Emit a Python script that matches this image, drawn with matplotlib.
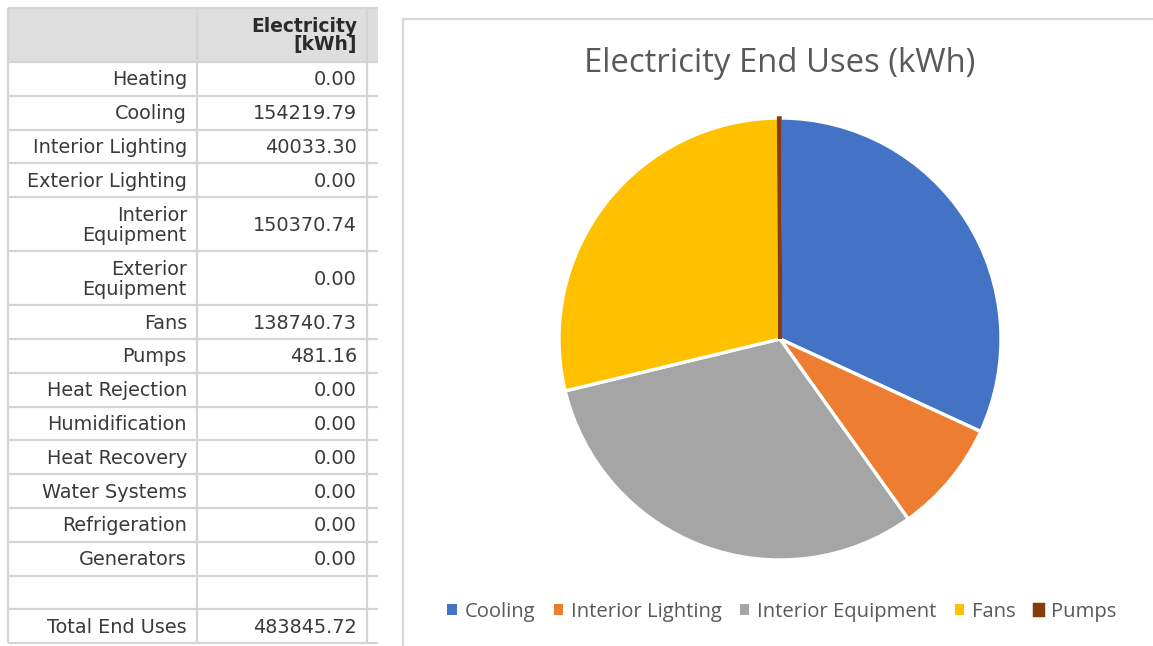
import matplotlib.pyplot as plt
from matplotlib.patches import Patch, Rectangle

# end-use table (left) and pie of the non-zero electricity uses (right)
row_labels = ["Heating", "Cooling", "Interior Lighting", "Exterior Lighting",
              "Interior\nEquipment", "Exterior\nEquipment", "Fans", "Pumps",
              "Heat Rejection", "Humidification", "Heat Recovery",
              "Water Systems", "Refrigeration", "Generators", "",
              "Total End Uses"]
row_values = ["0.00", "154219.79", "40033.30", "0.00", "150370.74", "0.00",
              "138740.73", "481.16", "0.00", "0.00", "0.00", "0.00", "0.00",
              "0.00", "", "483845.72"]

pie_labels = ["Cooling", "Interior Lighting", "Interior Equipment", "Fans", "Pumps"]
pie_values = [154219.79, 40033.30, 150370.74, 138740.73, 481.16]
pie_colors = ["#4472C4", "#ED7D31", "#A5A5A5", "#FFC000", "#843C0C"]

plt.rcParams["font.family"] = ["DejaVu Sans"]

W, H = 1153, 646
fig = plt.figure(figsize=(W / 100, H / 100), dpi=100)
fig.patch.set_facecolor("white")

# pixel-space axes for the table and the chart frame
bg = fig.add_axes([0, 0, 1, 1])
bg.set_xlim(0, W)
bg.set_ylim(H, 0)
bg.axis("off")

grid_c = "#d4d4d4"
txt_c = "#3a3a3a"
x0, x1, x2, xr = 8, 197, 367, 378
top, head_bot = 8, 62
single, double = 33.8, 54

bg.add_patch(Rectangle((x0, top), xr - x0, head_bot - top, facecolor="#dedede",
                       edgecolor="none", zorder=0))
bg.text(357, 35.5, "Electricity\n[kWh]", ha="right", va="center", fontsize=13.4,
        fontweight="bold", color="#2a2a2a",
        linespacing=0.98, multialignment="right")

y = head_bot
edges = [top, head_bot]
for lab, val in zip(row_labels, row_values):
    h = double if "\n" in lab else single
    yc = y + h / 2
    bg.text(187, yc + 1, lab, ha="right", va="center", fontsize=13.9, color=txt_c,
            linespacing=1.05, multialignment="right")
    bg.text(357, yc + 1, val, ha="right", va="center", fontsize=13.9, color=txt_c)
    y += h
    edges.append(y)

for e in edges:
    bg.plot([x0, xr], [e, e], color=grid_c, lw=1.6, solid_capstyle="butt")
for xv in (x0, x1, x2):
    bg.plot([xv, xv], [top, edges[-1]], color=grid_c, lw=1.6, solid_capstyle="butt")

# chart frame (only left and top edges fall inside the image)
bg.plot([403, 403], [H, 18.5], color="#d9d9d9", lw=1.6)
bg.plot([403, W], [18.5, 18.5], color="#d9d9d9", lw=1.6)

bg.text(780, 63, "Electricity End Uses (kWh)", ha="center", va="center",
        fontsize=23.7, color="#595959", family="Open Sans")

# pie
cx, cy, r = 780, 339, 221
pax = fig.add_axes([(cx - r) / W, (H - cy - r) / H, 2 * r / W, 2 * r / H])
wedges, _ = pax.pie(pie_values, colors=pie_colors, startangle=90, counterclock=False,
                    radius=1, wedgeprops=dict(edgecolor="white", linewidth=2.4))
wedges[-1].set_edgecolor(pie_colors[-1])
wedges[-1].set_linewidth(2.5)
wedges[-1].set_zorder(3)
pax.set_xlim(-1, 1)
pax.set_ylim(-1, 1)
pax.set_aspect("equal")
pax.axis("off")

handles = [Patch(facecolor=c, edgecolor="none") for c in pie_colors[:-1]]
handles.append(Patch(facecolor=pie_colors[-1], edgecolor=pie_colors[-1], linewidth=2.5))
fig.legend(handles, pie_labels, loc="center", bbox_to_anchor=(782 / W, 1 - 612 / H),
           ncol=5, frameon=False, handlelength=0.45, handleheight=0.45,
           handletextpad=0.4, columnspacing=0.9, labelcolor="#595959",
           prop={"family": "Open Sans", "size": 14.6})

fig.savefig("out.png", dpi=100, facecolor="white")
